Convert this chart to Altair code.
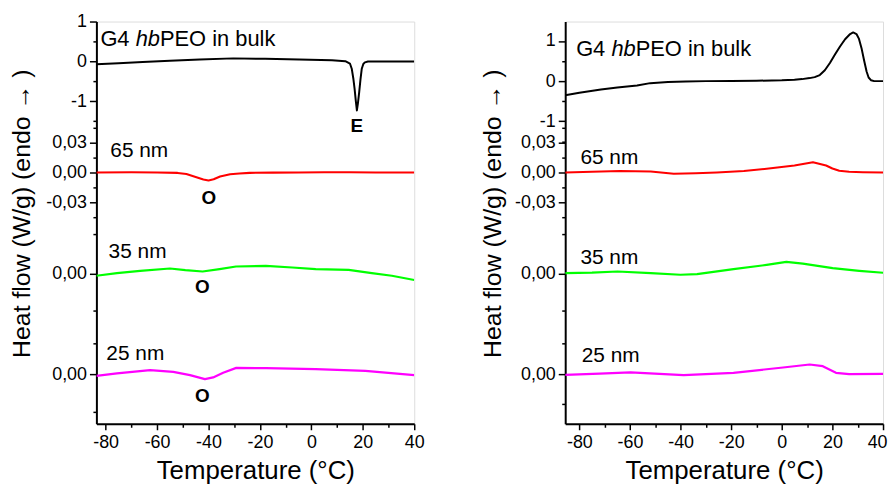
import altair as alt
import pandas as pd

FONT = "Liberation Sans"

# ---------------- data (T in °C, heat flow in W/g) ----------------
# Left panel
L_BULK_T = [-83.6, -75, -65.6, -55, -43.4, -30.4, -18, -4.8, 8, 13.2, 15.0, 15.7, 16.3, 16.8,
            17.3, 17.7, 18.1, 18.6, 19.1, 19.6, 20.2, 20.8, 22, 30, 40]
L_BULK_V = [-0.07, -0.045, -0.01, 0.02, 0.05, 0.08, 0.07, 0.05, 0.03, 0.01, -0.05, -0.18, -0.42,
            -0.68, -1.0, -1.23, -1.05, -0.77, -0.45, -0.18, -0.06, -0.02, 0.0, 0.0, 0.0]
L_65_T = [-83.6, -70, -60, -52, -48.6, -45, -42, -40, -38, -35.5, -31.6, -28, -24, -15, -5, 5, 15, 25, 40]
L_65_V = [0.0, 0.0003, 0.0, -0.0004, -0.0015, -0.0045, -0.007, -0.008, -0.0068, -0.004, -0.0017,
          -0.001, -0.0004, -0.0001, 0.0, 0.0002, 0.0002, 0.0001, 0.0]
L_35_T = [-83.6, -75.6, -66.6, -55, -49, -42.3, -35.7, -29.3, -17.7, -7.4, 1.7, 14.5, 23.5, 31.3, 40]
L_35_V = [-0.002, 0.0007, 0.003, 0.0053, 0.0037, 0.0023, 0.0047, 0.0073, 0.008, 0.0063, 0.0047,
          0.004, 0.0007, -0.002, -0.0063]
L_25_T = [-83.6, -75.6, -62.7, -53.7, -47.2, -41.4, -38.2, -34.3, -29.2, -17.6, 1.7, 21, 40]
L_25_V = [-0.0017, 0.0007, 0.004, 0.0023, -0.001, -0.005, -0.0033, 0.0013, 0.0063, 0.006, 0.005,
          0.0033, -0.001]

# Right panel
R_BULK_T = [-85.6, -80, -71.5, -65, -57.2, -52, -45, -38, -30, -20, -10, 0, 5, 8, 11, 13, 15, 17,
            19, 21, 23, 25, 27, 28.2, 29.5, 30.5, 31.5, 32.5, 33.5, 34.3, 35.3, 36.5, 40]
R_BULK_V = [-0.35, -0.29, -0.21, -0.16, -0.11, -0.05, -0.02, -0.01, 0.0, 0.005, 0.01, 0.02, 0.035,
            0.05, 0.075, 0.1, 0.15, 0.27, 0.45, 0.66, 0.86, 1.04, 1.17, 1.21, 1.17, 1.05, 0.82, 0.52,
            0.24, 0.09, 0.02, 0.0, 0.0]
R_65_T = [-85.6, -75, -64, -51.8, -42.7, -34, -25.7, -15, -6, 5, 12.3, 17.5, 20, 22.7, 26.6, 32, 40]
R_65_V = [0.0, 0.0008, 0.0015, 0.001, -0.0013, -0.0008, 0.0, 0.0015, 0.0037, 0.007, 0.0103, 0.007,
          0.004, 0.0017, 0.0007, 0.0003, 0.0]
R_35_T = [-85.6, -75, -64.9, -51.8, -40.1, -33.5, -19.1, -6, 1.8, 8.3, 20.1, 30.6, 40]
R_35_V = [0.0007, 0.0012, 0.0023, 0.0007, -0.001, -0.0003, 0.0047, 0.009, 0.012, 0.0103, 0.0057,
          0.003, 0.001]
R_25_T = [-85.6, -72, -59.8, -38.8, -19.1, 0.5, 11, 16.2, 21.4, 26.6, 40]
R_25_V = [-0.0007, 0.0005, 0.0017, -0.001, 0.0013, 0.0067, 0.0097, 0.008, 0.0013, 0.0, 0.0003]

SERIES = ["bulk", "65 nm", "35 nm", "25 nm"]
COLORS = ["#000000", "#ff0000", "#00ff00", "#ff00ff"]
WIDTHS = [2.0, 2.2, 3.0, 3.0]

# tick labels of the stacked heat-flow axis
BULK_TICKS = [1, 0, -1]
BULK_LABELS = ["1", "0", "-1"]
NM65_TICKS = [0.03, 0.0, -0.03]
NM65_LABELS = ["0,03", "0,00", "-0,03"]
ZERO_TICK = [0.0]
ZERO_LABEL = ["0,00"]

# annotation texts
SAMPLE_LABELS = ["65 nm", "35 nm", "25 nm"]

# ---------------- layout of the stacked traces (plot units 0..405) ----------------
H = 405
W = 320
L_STACK = {"bulk": (364.7, 40.0), "65 nm": (253.0, 1000.0), "35 nm": (151.0, 1000.0), "25 nm": (50.0, 1000.0)}
R_STACK = {"bulk": (345.0, 40.5), "65 nm": (253.0, 1000.0), "35 nm": (151.0, 1000.0), "25 nm": (50.0, 1000.0)}
L_MINOR = {"bulk": [0.5, -0.5, -1.5], "65 nm": [0.045, 0.015, -0.015, -0.045],
           "35 nm": [0.04, -0.037], "25 nm": [0.031, -0.038]}
R_MINOR = {"bulk": [1.5, 0.5, -0.5, -1.5], "65 nm": [0.045, 0.015, -0.015, -0.045],
           "35 nm": [0.04, -0.037], "25 nm": [0.031, -0.03]}


def pos(stack, s, v):
    off, k = stack[s]
    return round(off + k * v, 3)


def curves_df(stack, curves):
    rows = []
    for s, (ts, vs) in zip(SERIES, curves):
        for t, v in zip(ts, vs):
            rows.append({"T": t, "u": pos(stack, s, v), "series": s})
    return pd.DataFrame(rows)


def y_axis_spec(stack, minor):
    maj_u, maj_l = [], []
    for s, ticks, labs in [("bulk", BULK_TICKS, BULK_LABELS), ("65 nm", NM65_TICKS, NM65_LABELS),
                           ("35 nm", ZERO_TICK, ZERO_LABEL), ("25 nm", ZERO_TICK, ZERO_LABEL)]:
        for t, l in zip(ticks, labs):
            maj_u.append(pos(stack, s, t))
            maj_l.append(l)
    min_u = [pos(stack, s, v) for s in SERIES for v in minor[s]]
    maj_js = "[" + ",".join(repr(v) for v in maj_u) + "]"
    lab_js = "[" + ",".join("'" + l + "'" for l in maj_l) + "]"
    label_expr = f"indexof({maj_js}, datum.value) >= 0 ? {lab_js}[indexof({maj_js}, datum.value)] : ''"
    tick_size = {"condition": {"test": f"indexof({maj_js}, datum.value) >= 0", "value": 7}, "value": 3.5}
    return sorted(maj_u + min_u), label_expr, tick_size


def panel(curves, stack, minor, xdom, title_x, ann, flush_last):
    df = curves_df(stack, curves)
    values, label_expr, tick_size = y_axis_spec(stack, minor)
    x_axis_kw = dict(
        values=list(range(-80, 41, 10)), labelExpr="datum.value % 20 == 0 ? toString(datum.value) : ''",
        title="Temperature (°C)", titleFontSize=26, titleFontWeight="normal", titleY=55,
        titleBaseline="alphabetic", labelFontSize=18, labelPadding=4, labelOverlap=False,
        tickSize={"condition": {"test": "datum.value % 20 == 0", "value": 6}, "value": 3.5},
        tickWidth=1.5, tickColor="black", domainColor="black", domainWidth=2, grid=False,
        labelColor="black", titleColor="black")
    if flush_last:
        x_axis_kw.update(labelFlush=1, labelFlushOffset=4)
    else:
        x_axis_kw.update(labelFlush=False)
    x_axis = alt.Axis(**x_axis_kw)
    y_axis = alt.Axis(
        values=values, labelExpr=label_expr, tickSize=tick_size, tickWidth=1.5, tickColor="black",
        title="Heat flow (W/g) (endo → )", titleFontSize=25, titleFontWeight="normal",
        titleAngle=270, titleX=title_x, titleY=193, titleBaseline="top", titleAlign="center",
        labelFontSize=18, labelPadding=3, labelOverlap=False, labelBound=False,
        domainColor="black", domainWidth=2, grid=False, labelColor="black", titleColor="black")
    xs = alt.X("T:Q", scale=alt.Scale(domain=xdom, nice=False, zero=False), axis=x_axis)
    ys = alt.Y("u:Q", scale=alt.Scale(domain=[0, H], nice=False, zero=False), axis=y_axis)
    lines = alt.Chart(df).mark_line(clip=True, strokeJoin="round").encode(
        x=xs, y=ys, detail="series:N",
        color=alt.Color("series:N", scale=alt.Scale(domain=SERIES, range=COLORS), legend=None),
        strokeWidth=alt.StrokeWidth("series:N", scale=alt.Scale(domain=SERIES, range=WIDTHS), legend=None),
    )
    layers = [lines]
    # "G4 hbPEO in bulk" title with italic "hb"
    g = pd.DataFrame([ann["g4"]], columns=["T", "u"])
    for txt, dx, style in [("G4", 0, "normal"), ("hb", 35.5, "italic"), ("PEO in bulk", 60.0, "normal")]:
        layers.append(alt.Chart(g).mark_text(text=txt, align="left", baseline="alphabetic", dx=dx,
                                             fontSize=22, fontStyle=style, font=FONT, color="black")
                      .encode(x=xs, y=ys))
    lab = pd.DataFrame([(t, u, s) for (t, u), s in zip(ann["samples"], SAMPLE_LABELS)], columns=["T", "u", "txt"])
    layers.append(alt.Chart(lab).mark_text(align="left", baseline="alphabetic", fontSize=21, font=FONT,
                                           color="black").encode(x=xs, y=ys, text="txt:N"))
    if ann.get("marks"):
        mk = pd.DataFrame(ann["marks"], columns=["T", "u", "txt"])
        layers.append(alt.Chart(mk).mark_text(align="center", baseline="alphabetic", fontSize=19,
                                              fontWeight="bold", font=FONT, color="black")
                      .encode(x=xs, y=ys, text="txt:N"))
    return alt.layer(*layers).properties(width=W, height=H)


LEFT_ANN = {"g4": (-82.05, 380.0),
            "samples": [(-78.2, 269.0), (-78.85, 166.7), (-79.74, 64.0)],
            "marks": [(17.7, 294.0, "E"), (-39.84, 221.3, "O"), (-42.39, 131.3, "O"), (-42.39, 22.3, "O")]}
RIGHT_ANN = {"g4": (-81.28, 370.7),
             "samples": [(-79.6, 261.7), (-79.6, 161.3), (-79.05, 62.3)],
             "marks": []}

left = panel([(L_BULK_T, L_BULK_V), (L_65_T, L_65_V), (L_35_T, L_35_V), (L_25_T, L_25_V)],
             L_STACK, L_MINOR, [-83.6, 40], -87, LEFT_ANN, False)
right = panel([(R_BULK_T, R_BULK_V), (R_65_T, R_65_V), (R_35_T, R_35_V), (R_25_T, R_25_V)],
              R_STACK, R_MINOR, [-85.6, 40], -85, RIGHT_ANN, True)

chart = alt.hconcat(left, right, spacing=55).properties(
    padding={"left": 1, "top": 2, "right": 0, "bottom": -2}, background="white"
).configure_view(stroke="black", strokeWidth=2).configure_axis(labelOverlap=False).configure(font=FONT)

chart.save("out.html", embed_options={"renderer": "svg", "actions": False})
